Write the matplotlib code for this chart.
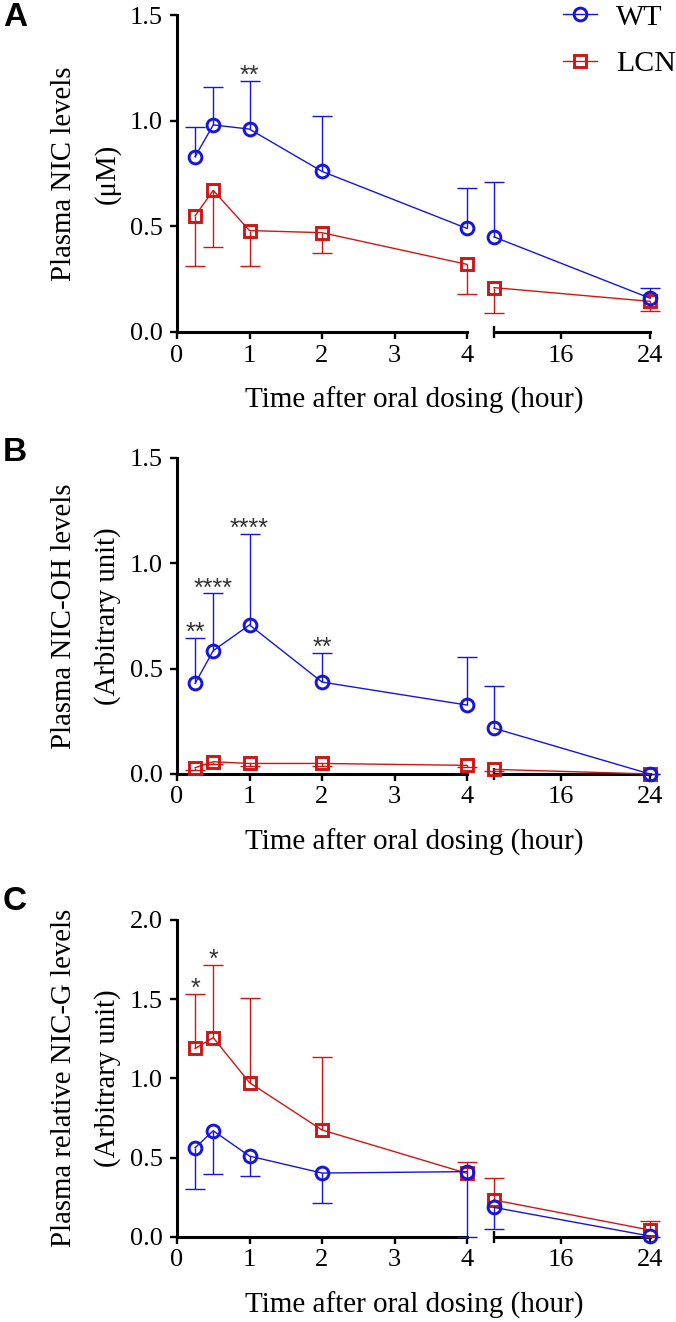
import matplotlib
matplotlib.use('Agg')
import matplotlib.pyplot as plt
from matplotlib.lines import Line2D
import numpy as np

plt.rcParams['font.family'] = ['Liberation Serif', 'DejaVu Serif']

# sampling times (hour); the axis is broken between 4 h and the late points
times = [0.25, 0.5, 1, 2, 4, 10, 24]
n_early = 5

# A: plasma NIC (uM)
nic_wt = [0.83, 0.98, 0.96, 0.76, 0.49, 0.45, 0.16]
nic_wt_sd = [0.14, 0.18, 0.23, 0.26, 0.19, 0.26, 0.05]
nic_lcn = [0.55, 0.67, 0.48, 0.47, 0.32, 0.21, 0.145]
nic_lcn_sd = [0.24, 0.27, 0.17, 0.095, 0.14, 0.12, 0.045]

# B: plasma NIC-OH (arbitrary unit)
oh_wt = [0.43, 0.585, 0.707, 0.436, 0.327, 0.217, 0.0]
oh_wt_sd = [0.216, 0.272, 0.43, 0.139, 0.226, 0.202, 0.0]
oh_lcn = [0.03, 0.058, 0.05, 0.05, 0.041, 0.022, 0.0]
oh_lcn_sd = [0.01, 0.01, 0.01, 0.01, 0.01, 0.01, 0.0]

# C: plasma relative NIC-G (arbitrary unit)
g_wt = [0.562, 0.669, 0.509, 0.402, 0.411, 0.185, 0.004]
g_wt_sd = [0.263, 0.275, 0.124, 0.187, 0.411, 0.139, 0.004]
g_lcn = [1.189, 1.257, 0.973, 0.674, 0.40, 0.232, 0.042]
g_lcn_sd = [0.344, 0.461, 0.536, 0.461, 0.074, 0.139, 0.059]

# significance marks: (time, text, series it sits above)
sig_a = [(1, '**', 'WT')]
sig_b = [(0.25, '**', 'WT'), (0.5, '****', 'WT'), (1, '****', 'WT'), (2, '**', 'WT')]
sig_c = [(0.25, '*', 'LCN'), (0.5, '*', 'LCN')]

blue = '#1515dc'
red = '#d01515'

panels = [
    dict(letter='A', ylabel='Plasma NIC levels\n(\u03bcM)', ymax=1.5,
         wt=(nic_wt, nic_wt_sd, 1), lcn=(nic_lcn, nic_lcn_sd, -1), sig=sig_a,
         top=15, bot=332, letter_top=2),
    dict(letter='B', ylabel='Plasma NIC-OH levels\n(Arbitrary unit)', ymax=1.5,
         wt=(oh_wt, oh_wt_sd, 1), lcn=(oh_lcn, oh_lcn_sd, -1), sig=sig_b,
         top=457.7, bot=774, letter_top=437),
    dict(letter='C', ylabel='Plasma relative NIC-G levels\n(Arbitrary unit)', ymax=2.0,
         wt=(g_wt, g_wt_sd, -1), lcn=(g_lcn, g_lcn_sd, 1), sig=sig_c,
         top=920, bot=1236.7, letter_top=886),
]

W, H = 676, 1322
fig = plt.figure(figsize=(W / 100, H / 100), dpi=100)


def px_axes(x0, x1, ytop, ybot):
    return fig.add_axes([x0 / W, 1 - ybot / H, (x1 - x0) / W, (ybot - ytop) / H])


def draw_series(axs, mean, sd, direction, color, marker, ms):
    mean = np.array(mean)
    sd = np.array(sd)
    t = np.array(times)
    zeros = np.zeros_like(sd)
    for ax, sl in ((axs[0], slice(0, n_early)), (axs[1], slice(n_early, None))):
        if direction > 0:
            yerr = [zeros[sl], sd[sl]]
        else:
            yerr = [sd[sl], zeros[sl]]
        eb = ax.errorbar(t[sl], mean[sl], yerr=yerr, fmt='none', ecolor=color,
                         elinewidth=1.0, capsize=7.5, capthick=1.0, zorder=3)
        # drop the cap on the empty side
        eb[1][0 if direction > 0 else 1].set_visible(False)
        for art in list(eb[1]) + list(eb[2]):
            art.set_clip_on(False)
        ax.plot(t[sl], mean[sl], color=color, lw=1.0, marker=marker, ms=ms,
                mfc='none', mec=color, mew=2.1, clip_on=False, zorder=4)


for p in panels:
    ax1 = px_axes(177, 467, p['top'], p['bot'])
    ax2 = px_axes(494, 650, p['top'], p['bot'])
    ax1.set_xlim(0, 4)
    ax2.set_xlim(10, 24)
    for ax in (ax1, ax2):
        ax.set_ylim(0, p['ymax'])
        ax.spines['top'].set_visible(False)
        ax.spines['right'].set_visible(False)
        ax.spines['bottom'].set_linewidth(2.2)
        ax.tick_params(axis='x', which='major', direction='out', length=5, width=1.7,
                       labelsize=19, pad=4)
        ax.tick_params(axis='x', which='minor', direction='inout', length=9, width=1.7)
    ax1.spines['left'].set_linewidth(2.2)
    ax2.spines['left'].set_visible(False)
    ax2.yaxis.set_visible(False)

    yt = np.arange(0, p['ymax'] + 0.01, 0.5)
    ax1.set_yticks(yt)
    ax1.set_yticklabels(['%.1f' % v for v in yt])
    ax1.tick_params(axis='y', direction='out', length=5, width=1.7, labelsize=19, pad=5)

    ax1.set_xticks([0, 1, 2, 3, 4])
    ax1.set_xticks([4], minor=True)
    ax2.set_xticks([16, 24])
    ax2.set_xticks([10], minor=True)

    draw_series((ax1, ax2), *p['lcn'][:2], p['lcn'][2], red, 's', 8.6)
    draw_series((ax1, ax2), *p['wt'][:2], p['wt'][2], blue, 'o', 9.2)

    for t, txt, who in p['sig']:
        mean, sd, _ = p[who.lower()]
        i = times.index(t)
        ax1.annotate(txt, xy=(t, mean[i] + sd[i]), xytext=(0, -1.5), textcoords='offset points',
                     ha='center', va='baseline', fontsize=18, color='#333333',
                     family='Liberation Sans', annotation_clip=False)

    fig.text(86 / W, 1 - (p['top'] + p['bot']) / 2 / H, p['ylabel'], rotation=90,
             ha='center', va='center', fontsize=20.7, linespacing=1.8, multialignment='center')
    fig.text(414 / W, 1 - (p['bot'] + 76) / H, 'Time after oral dosing (hour)',
             ha='center', va='baseline', fontsize=21)
    fig.text(3 / W, 1 - p['letter_top'] / H, p['letter'],
             ha='left', va='top', fontsize=24, fontweight='bold', family='Liberation Sans')

handles = [Line2D([], [], color=blue, lw=1.0, marker='o', ms=9.2, mfc='none', mew=2.1),
           Line2D([], [], color=red, lw=1.0, marker='s', ms=8.6, mfc='none', mew=2.1)]
fig.legend(handles, ['WT', 'LCN'], loc='upper left', bbox_to_anchor=(563 / W, 1 - 4 / H),
           frameon=False, borderpad=0, borderaxespad=0, handlelength=1.13,
           handletextpad=0.66, labelspacing=0.65, fontsize=21.5)

fig.savefig('out.png', dpi=100)
